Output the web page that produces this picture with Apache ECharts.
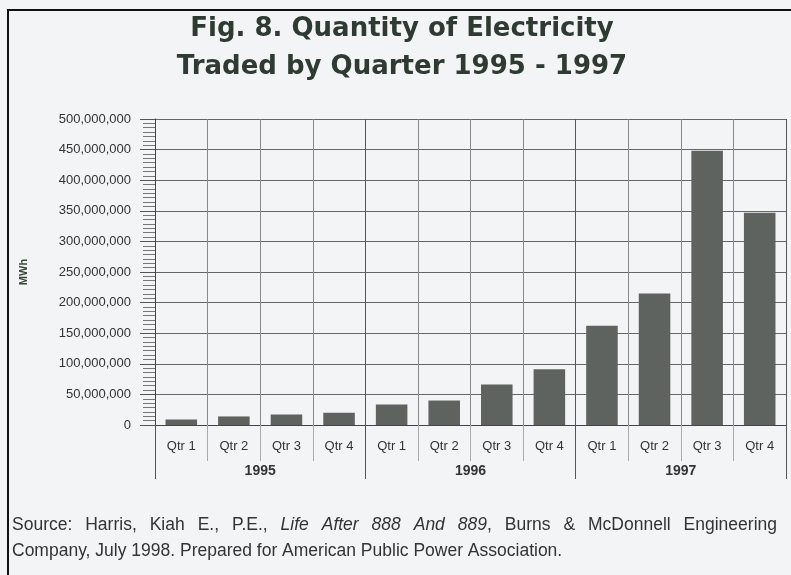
<!DOCTYPE html>
<html>
<head>
<meta charset="utf-8">
<script src="https://cdn.jsdelivr.net/npm/echarts@6/dist/echarts.min.js"></script>
<style>
  html, body { margin: 0; padding: 0; background: #f3f4f6; }
  #chart { width: 791px; height: 575px; }
</style>
</head>
<body>
<div id="chart"></div>
<script>
// data
var quarters = ['Qtr 1', 'Qtr 2', 'Qtr 3', 'Qtr 4',
                'Qtr 1', 'Qtr 2', 'Qtr 3', 'Qtr 4',
                'Qtr 1', 'Qtr 2', 'Qtr 3', 'Qtr 4'];
var years = ['1995', '1996', '1997'];
var mwh = [9e6, 14e6, 17e6, 20e6, 33.5e6, 40e6, 66e6, 91e6, 162e6, 215e6, 448e6, 347e6];

var titleLines = ['Fig. 8. Quantity of Electricity', 'Traded by Quarter 1995 - 1997'];
// source note, each word as [text, italic] pieces
var sourceLine1 = [
    [['Source:', 0]], [['Harris,', 0]], [['Kiah', 0]], [['E.,', 0]], [['P.E.,', 0]],
    [['Life', 1]], [['After', 1]], [['888', 1]], [['And', 1]], [['889', 1], [',', 0]],
    [['Burns', 0]], [['&', 0]], [['McDonnell', 0]], [['Engineering', 0]]
];
var sourceLine2 = 'Company, July 1998. Prepared for American Public Power Association.';

var noteFont = '17.5px "Liberation Sans", Arial, sans-serif';
var ctx = document.createElement('canvas').getContext('2d');
function measure(txt, italic) {
    ctx.font = (italic ? 'italic ' : '') + noteFont;
    return ctx.measureText(txt).width;
}

// justify the first source line between x=12 and x=777
var graphics = [];
var left = 12, right = 777;
var total = 0;
sourceLine1.forEach(function (w) {
    w.forEach(function (p) { total += measure(p[0], p[1]); });
});
var gap = (right - left - total) / (sourceLine1.length - 1);
var x = left;
sourceLine1.forEach(function (w) {
    w.forEach(function (p) {
        graphics.push({
            type: 'text', x: x, y: 525,
            style: {
                text: p[0], fill: '#333', font: (p[1] ? 'italic ' : '') + noteFont,
                align: 'left', verticalAlign: 'middle'
            }
        });
        x += measure(p[0], p[1]);
    });
    x += gap;
});
graphics.push({
    type: 'text', x: left, y: 551,
    style: { text: sourceLine2, fill: '#333', font: noteFont, align: 'left', verticalAlign: 'middle' }
});

titleLines.forEach(function (t, i) {
    graphics.push({
        type: 'text', x: 402, y: 29 + i * 38,
        style: {
            text: t, fill: '#2f3b32', font: 'bold 26px "DejaVu Sans", sans-serif',
            align: 'center', verticalAlign: 'middle'
        }
    });
});

// frame
graphics.push({
    type: 'rect', z: -1,
    shape: { x: 8, y: 10, width: 900, height: 700 },
    style: { fill: 'none', stroke: '#111', lineWidth: 2 }
});

var myChart = echarts.init(document.getElementById('chart'));
myChart.setOption({
    backgroundColor: '#f3f4f6',
    animation: false,
    grid: { left: 155, right: 5, top: 119, bottom: 150 },
    graphic: graphics,
    xAxis: [{
        type: 'category',
        data: quarters,
        position: 'bottom',
        axisLine: { show: true, lineStyle: { color: '#444', width: 1 } },
        axisTick: { show: true, interval: 0, length: 36, lineStyle: { color: '#aaa' } },
        axisLabel: {
            interval: 0, margin: 15, color: '#333', fontSize: 13,
            fontFamily: '"Liberation Sans", Arial, sans-serif'
        },
        splitLine: {
            show: true, interval: 0,
            lineStyle: { color: ['#555', '#888', '#888', '#888'], width: 1 }
        }
    }, {
        type: 'category',
        data: years,
        position: 'bottom',
        axisLine: { show: false },
        axisTick: { show: true, interval: 0, length: 54, lineStyle: { color: '#555' } },
        axisLabel: {
            interval: 0, margin: 39, color: '#333', fontSize: 14, fontWeight: 'bold',
            fontFamily: '"Liberation Sans", Arial, sans-serif'
        },
        splitLine: { show: false }
    }],
    yAxis: {
        type: 'value',
        min: 0,
        max: 500000000,
        interval: 50000000,
        name: 'MWh',
        nameLocation: 'middle',
        nameRotate: 90,
        nameGap: 126,
        nameTextStyle: {
            color: '#3a463c', fontSize: 11, fontWeight: 'bold',
            fontFamily: '"Liberation Sans", Arial, sans-serif'
        },
        axisLine: { show: true, lineStyle: { color: '#444' } },
        axisTick: { show: true, length: 15, lineStyle: { color: '#555' } },
        minorTick: { show: true, splitNumber: 7, length: 12, lineStyle: { color: '#777' } },
        axisLabel: {
            margin: 24, color: '#333', fontSize: 13,
            fontFamily: '"Liberation Sans", Arial, sans-serif',
            formatter: function (v) { return echarts.format.addCommas(v); }
        },
        splitLine: { lineStyle: { color: '#666', width: 1 } }
    },
    series: [{
        type: 'bar',
        xAxisIndex: 0,
        data: mwh,
        barWidth: '60%',
        itemStyle: { color: '#5f635f' }
    }]
});
</script>
</body>
</html>
